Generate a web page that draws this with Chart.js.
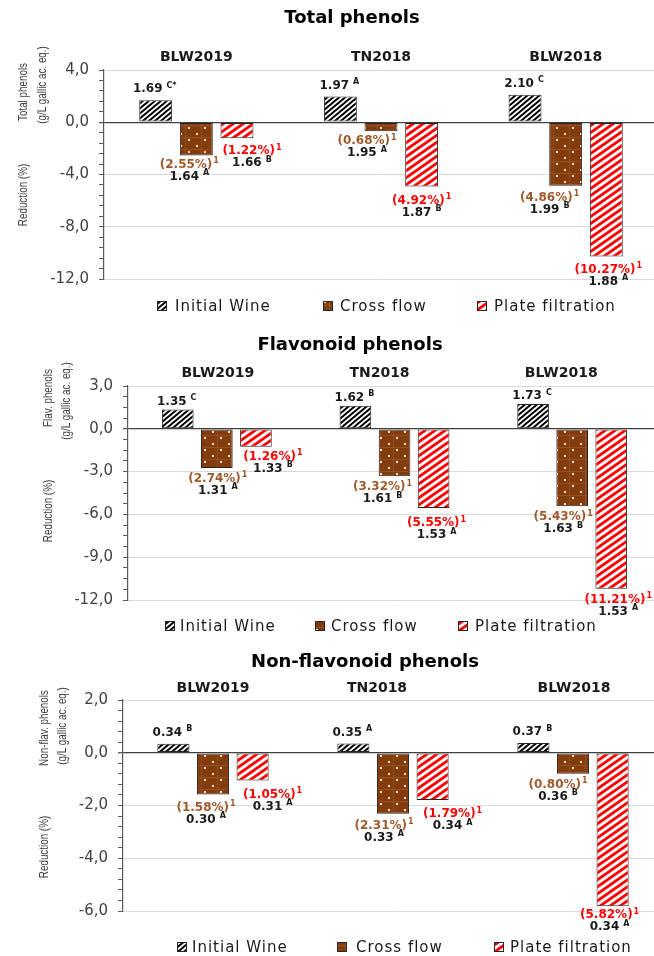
<!DOCTYPE html>
<html>
<head>
<meta charset="utf-8">
<script src="https://cdn.jsdelivr.net/npm/chart.js@4.4.1/dist/chart.umd.min.js"></script>
<style>
  html, body { margin: 0; padding: 0; background: #fff; width: 654px; height: 956px; overflow: hidden; }
  canvas { position: absolute; left: 0; display: block; }
</style>
</head>
<body>
<canvas id="c1" width="670" height="322" style="top:0px"></canvas>
<canvas id="c2" width="670" height="318" style="top:322px"></canvas>
<canvas id="c3" width="670" height="316" style="top:640px"></canvas>
<script>
// ---- data ----
const categories = ['BLW2019', 'TN2018', 'BLW2018'];
const seriesNames = ['Initial Wine', 'Cross flow', 'Plate filtration'];

// Total phenols: initial concentration (g/L), reductions (%) and concentrations after treatment
const totalInitial = [1.69, 1.97, 2.10];
const totalCrossReduction = [-2.55, -0.68, -4.86];
const totalPlateReduction = [-1.22, -4.92, -10.27];
const totalCrossConc = [1.64, 1.95, 1.99];
const totalPlateConc = [1.66, 1.87, 1.88];
const totalInitialLetters = ['C*', 'A', 'C'];
const totalCrossLetters = ['A', 'A', 'B'];
const totalPlateLetters = ['B', 'B', 'A'];
const totalTicks = [4, 0, -4, -8, -12];

// Flavonoid phenols
const flavInitial = [1.35, 1.62, 1.73];
const flavCrossReduction = [-2.74, -3.32, -5.43];
const flavPlateReduction = [-1.26, -5.55, -11.21];
const flavCrossConc = [1.31, 1.61, 1.63];
const flavPlateConc = [1.33, 1.53, 1.53];
const flavInitialLetters = ['C', 'B', 'C'];
const flavCrossLetters = ['A', 'B', 'B'];
const flavPlateLetters = ['B', 'A', 'A'];
const flavTicks = [3, 0, -3, -6, -9, -12];

// Non-flavonoid phenols
const nonflavInitial = [0.34, 0.35, 0.37];
const nonflavCrossReduction = [-1.58, -2.31, -0.80];
const nonflavPlateReduction = [-1.05, -1.79, -5.82];
const nonflavCrossConc = [0.30, 0.33, 0.36];
const nonflavPlateConc = [0.31, 0.34, 0.34];
const nonflavInitialLetters = ['B', 'A', 'B'];
const nonflavCrossLetters = ['A', 'A', 'B'];
const nonflavPlateLetters = ['A', 'A', 'A'];
const nonflavTicks = [2, 0, -2, -4, -6];

// ---- styling ----
const FONT = '"DejaVu Sans", Verdana, sans-serif';
const BROWN = '#843C0C';
const BROWN_TEXT = '#A0592A';
const RED = '#FF0000';
const INK = '#1A1A1A';

function stripePattern(w, h, bg, fg, lw) {
  const c = document.createElement('canvas');
  c.width = w; c.height = h;
  const g = c.getContext('2d');
  g.fillStyle = bg; g.fillRect(0, 0, w, h);
  g.strokeStyle = fg; g.lineWidth = lw;
  [[-w, 2 * h, 2 * w, -h], [-w, h, w, -h], [0, 2 * h, 2 * w, 0]].forEach(([a, b, c2, d]) => {
    g.beginPath(); g.moveTo(a, b); g.lineTo(c2, d); g.stroke();
  });
  return g.createPattern(c, 'repeat');
}
function dotPattern() {
  const c = document.createElement('canvas');
  c.width = 16; c.height = 12;
  const g = c.getContext('2d');
  g.fillStyle = BROWN; g.fillRect(0, 0, 16, 12);
  g.fillStyle = 'rgba(255,255,255,0.10)';
  g.fillRect(9, 0, 1, 12); g.fillRect(0, 5, 16, 1);
  g.fillStyle = '#F5E6D8';
  g.fillRect(4, 1, 2, 2); g.fillRect(12, 7, 2, 2);
  return g.createPattern(c, 'repeat');
}
const fills = [
  stripePattern(6, 5, '#FFFFFF', '#000000', 2.1),
  dotPattern(),
  stripePattern(10, 7, '#FFFFFF', RED, 2.8)
];

// ---- panel definitions ----
const panels = [
  {
    canvas: 'c1', top: 0, title: 'Total phenols', titlePos: [352, 18],
    area: { left: 104, top: 70, bottom: 279, right: 658 },
    ticks: totalTicks, minorStep: 0.8,
    values: [totalInitial, totalCrossReduction, totalPlateReduction],
    conc: [null, totalCrossConc, totalPlateConc],
    letters: [totalInitialLetters, totalCrossLetters, totalPlateLetters],
    yTitle: [['Total phenols', 24, 92], ['(g/L gallic ac. eq.)', 43, 85], ['Reduction (%)', 24, 195]],
    catY: 57, catDx: [0, 0, 0],
    initialDy: -11,
    labelOffsets: [null,
      [[-7, 9], [-14, 10], [-16, 12]],
      [[15, 13], [0, 14], [2, 13]]],
    legendY: 306, legendBoxX: [157, 323, 477], legendTextX: [175, 340, 494]
  },
  {
    canvas: 'c2', top: 322, title: 'Flavonoid phenols', titlePos: [350, 345],
    area: { left: 128, top: 386, bottom: 600, right: 661 },
    ticks: flavTicks, minorStep: 0.75,
    values: [flavInitial, flavCrossReduction, flavPlateReduction],
    conc: [null, flavCrossConc, flavPlateConc],
    letters: [flavInitialLetters, flavCrossLetters, flavPlateLetters],
    yTitle: [['Flav. phenols', 49, 398], ['(g/L gallic ac. eq.)', 67, 401], ['Reduction (%)', 49, 511]],
    catY: 373, catDx: [1, -15, -11],
    initialDy: -8,
    labelOffsets: [null,
      [[1, 11], [-12, 11], [-9, 11]],
      [[17, 10], [3, 15], [7, 11]]],
    legendY: 626, legendBoxX: [165, 315, 458], legendTextX: [180, 331, 475]
  },
  {
    canvas: 'c3', top: 640, title: 'Non-flavonoid phenols', titlePos: [365, 662],
    area: { left: 123, top: 700, bottom: 911, right: 663 },
    ticks: nonflavTicks, minorStep: 0.4,
    values: [nonflavInitial, nonflavCrossReduction, nonflavPlateReduction],
    conc: [null, nonflavCrossConc, nonflavPlateConc],
    letters: [nonflavInitialLetters, nonflavCrossLetters, nonflavPlateLetters],
    yTitle: [['Non-flav. phenols', 45, 728], ['(g/L gallic ac. eq.)', 63, 726], ['Reduction (%)', 45, 847]],
    catY: 688, catDx: [0, -16, 1],
    initialDy: -11,
    labelOffsets: [null,
      [[-7, 13], [-9, 12], [-15, 11]],
      [[20, 14], [20, 14], [-3, 9]]],
    legendY: 947, legendBoxX: [177, 337, 494], legendTextX: [192, 356, 510]
  }
];

// text with a small raised suffix, centred on (cx, cy)
function supText(ctx, main, sup, cx, cy, color, gap) {
  ctx.save();
  ctx.textBaseline = 'middle';
  ctx.textAlign = 'left';
  ctx.fillStyle = color;
  ctx.font = 'bold 12px ' + FONT;
  const w1 = ctx.measureText(main).width;
  ctx.font = 'bold 8px ' + FONT;
  const w2 = ctx.measureText(sup).width;
  const x0 = cx - (w1 + gap + w2) / 2;
  ctx.font = 'bold 12px ' + FONT;
  ctx.fillText(main, x0, cy);
  ctx.font = 'bold 8px ' + FONT;
  ctx.fillText(sup, x0 + w1 + gap, cy - 3.5);
  ctx.restore();
}

function isMultiple(v, step) {
  const r = v / step;
  return Math.abs(r - Math.round(r)) < 1e-6;
}

const annotations = {
  id: 'annotations',
  afterDraw(chart, args, opts) {
    const p = opts.panel;
    const ctx = chart.ctx;
    const T = p.top;
    ctx.save();

    // panel title
    ctx.fillStyle = '#000';
    ctx.font = 'bold 18px ' + FONT;
    ctx.textAlign = 'center';
    ctx.textBaseline = 'middle';
    ctx.fillText(p.title, p.titlePos[0], p.titlePos[1] - T);

    // category headings above the groups
    const xs = chart.scales.x;
    ctx.font = 'bold 14px ' + FONT;
    ctx.fillStyle = INK;
    categories.forEach((c, i) => {
      ctx.fillText(c, xs.getPixelForValue(i) + p.catDx[i], p.catY - T);
    });

    // rotated axis titles
    ctx.fillStyle = '#404040';
    ctx.font = '12px "Liberation Sans", Arial, sans-serif';
    p.yTitle.forEach(([txt, x, y]) => {
      ctx.save();
      ctx.translate(x, y - T);
      ctx.rotate(-Math.PI / 2);
      ctx.scale(0.82, 1);
      ctx.fillText(txt, 0, 0);
      ctx.restore();
    });

    // value labels
    const metas = [0, 1, 2].map(d => chart.getDatasetMeta(d));
    metas[0].data.forEach((bar, i) => {
      const v = p.values[0][i];
      supText(ctx, v.toFixed(2), p.letters[0][i], bar.x - 1, bar.y + p.initialDy, INK, 4);
    });
    [1, 2].forEach(d => {
      const color = d === 1 ? BROWN_TEXT : RED;
      metas[d].data.forEach((bar, i) => {
        const [dx, dy] = p.labelOffsets[d][i];
        const red = Math.abs(p.values[d][i]).toFixed(2);
        supText(ctx, '(' + red + '%)', '1', bar.x + dx, bar.y + dy, color, 1);
        supText(ctx, p.conc[d][i].toFixed(2), p.letters[d][i], bar.x + dx, bar.y + dy + 12, INK, 4);
      });
    });

    // legend
    seriesNames.forEach((name, k) => {
      const by = p.legendY - T - 5;
      ctx.fillStyle = fills[k];
      ctx.fillRect(p.legendBoxX[k], by, 10, 10);
      ctx.strokeStyle = '#262626';
      ctx.lineWidth = 1;
      ctx.strokeRect(p.legendBoxX[k] + 0.5, by + 0.5, 9, 9);
      ctx.fillStyle = INK;
      ctx.font = '15px ' + FONT;
      ctx.textAlign = 'left';
      ctx.textBaseline = 'middle';
      ctx.letterSpacing = '1px';
      ctx.fillText(name, p.legendTextX[k], p.legendY - T + 1);
      ctx.letterSpacing = '0px';
    });
    ctx.restore();
  }
};

panels.forEach(p => {
  const el = document.getElementById(p.canvas);
  const W = el.width, H = el.height;
  const major = p.ticks[0] - p.ticks[1];
  new Chart(el, {
    type: 'bar',
    data: {
      labels: categories,
      datasets: seriesNames.map((name, k) => ({
        label: name,
        data: p.values[k],
        backgroundColor: fills[k],
        borderColor: '#262626',
        borderWidth: 1,
        borderSkipped: false,
        categoryPercentage: 0.66,
        barPercentage: 0.81
      }))
    },
    plugins: [annotations],
    options: {
      responsive: false,
      animation: false,
      events: [],
      layout: {
        padding: {
          left: 0,
          top: p.area.top - p.top,
          bottom: H - (p.area.bottom - p.top),
          right: W - p.area.right
        }
      },
      plugins: {
        legend: { display: false },
        tooltip: { enabled: false },
        annotations: { panel: p }
      },
      scales: {
        x: {
          type: 'category',
          display: false,
          afterFit(s) { s.paddingLeft = 0; s.paddingRight = 0; }
        },
        y: {
          min: p.ticks[p.ticks.length - 1],
          max: p.ticks[0],
          afterFit(s) { s.width = p.area.left; s.paddingTop = 0; s.paddingBottom = 0; },
          border: { display: true, color: '#595959', width: 1.2 },
          grid: {
            drawTicks: true,
            tickLength: 5,
            tickColor: '#595959',
            color: c => {
              const v = c.tick.value;
              if (Math.abs(v) < 1e-9) return '#404040';
              return isMultiple(v, major) ? '#D9D9D9' : 'rgba(0,0,0,0)';
            },
            lineWidth: c => (Math.abs(c.tick.value) < 1e-9 ? 1.3 : 1)
          },
          ticks: {
            stepSize: p.minorStep,
            autoSkip: false,
            padding: 10,
            color: '#404040',
            font: { family: FONT, size: 15 },
            callback: v => (isMultiple(v, major) ? v.toFixed(1).replace('.', ',') : '')
          }
        }
      }
    }
  });
});
</script>
</body>
</html>
